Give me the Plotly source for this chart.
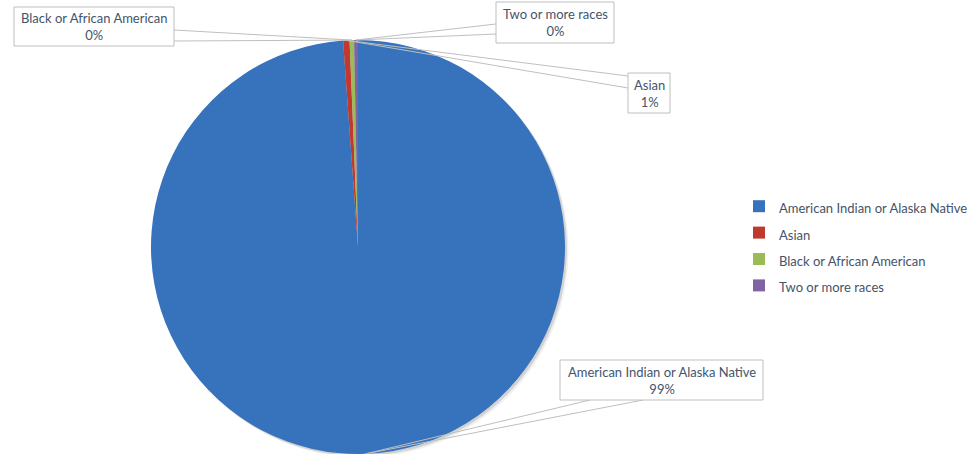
import math
import plotly.graph_objects as go

# ---- data ----
categories = ["American Indian or Alaska Native", "Asian", "Black or African American", "Two or more races"]
values = [98.85, 0.5, 0.35, 0.3]
colors = ["#3772BD", "#C0392F", "#9BBB59", "#8064A2"]

# ---- layout constants (pixels) ----
W, H = 980, 454
PIE_CX, PIE_CY, PIE_R = 358, 247, 207
TEXT_COLOR = "#44546A"
FONT = "Lato"

# callout boxes: (x0, y0, x1, y1) and wedge base points on the box edge
callouts = {
    "American Indian or Alaska Native": dict(box=(560, 360, 763, 400), base=((590, 400), (643, 400))),
    "Asian": dict(box=(628, 73, 670, 113), base=((628, 76), (628, 88))),
    "Black or African American": dict(box=(14, 7, 174, 46), base=((174, 30), (174, 41))),
    "Two or more races": dict(box=(496, 2, 614, 43), base=((496, 24), (496, 34))),
}

def px(x):
    return x / W

def py(y):
    return 1 - y / H

legend_labels = [f'<span style="font-size:13px">{c}</span>' for c in categories]

fig = go.Figure()
fig.add_trace(go.Pie(
    labels=legend_labels,
    values=values,
    marker=dict(colors=colors, line=dict(width=0)),
    sort=False,
    direction="clockwise",
    rotation=0,
    textinfo="none",
    hole=0,
    domain=dict(x=[px(PIE_CX - PIE_R), px(PIE_CX + PIE_R)],
                y=[py(PIE_CY + PIE_R), py(PIE_CY - PIE_R)]),
    showlegend=True,
))

shapes = []
# soft shadow behind the pie (lower right)
for off, alpha in ((3.5, 0.06), (2.0, 0.12)):
    shapes.append(dict(
        type="circle", xref="paper", yref="paper", layer="below",
        x0=px(PIE_CX - PIE_R + off), x1=px(PIE_CX + PIE_R + off),
        y0=py(PIE_CY + PIE_R + off), y1=py(PIE_CY - PIE_R + off),
        line=dict(width=0), fillcolor=f"rgba(0,0,0,{alpha})",
    ))

total = sum(values)
cum = 0.0
annotations = []
for cat, v in zip(categories, values):
    mid = (cum + v / 2) / total * 2 * math.pi
    cum += v
    tipx = PIE_CX + PIE_R * math.sin(mid)
    tipy = PIE_CY - PIE_R * math.cos(mid)
    c = callouts[cat]
    x0, y0, x1, y1 = c["box"]
    (bx1, by1), (bx2, by2) = c["base"]
    shapes.append(dict(
        type="path", xref="paper", yref="paper",
        path=f"M{px(bx1)},{py(by1)} L{px(tipx)},{py(tipy)} L{px(bx2)},{py(by2)}",
        line=dict(color="#BFBFBF", width=1), fillcolor="rgba(255,255,255,0)",
    ))
    shapes.append(dict(
        type="rect", xref="paper", yref="paper",
        x0=px(x0), x1=px(x1), y0=py(y1), y1=py(y0),
        line=dict(color="#BFBFBF", width=1), fillcolor="white",
    ))
    pct = math.floor(v / total * 100 + 0.5 + 1e-9)
    annotations.append(dict(
        xref="paper", yref="paper",
        x=px((x0 + x1) / 2), y=py((y0 + y1) / 2),
        text=f"{cat}<br>{pct}%", showarrow=False,
        font=dict(family=FONT, size=13, color=TEXT_COLOR),
        align="center", xanchor="center", yanchor="middle",
    ))

fig.update_layout(
    width=W, height=H,
    margin=dict(l=0, r=0, t=0, b=0),
    paper_bgcolor="white", plot_bgcolor="white",
    shapes=shapes, annotations=annotations,
    font=dict(family=FONT, size=13, color=TEXT_COLOR),
    legend=dict(
        x=px(739), y=py(246), xanchor="left", yanchor="middle",
        font=dict(family=FONT, size=18, color=TEXT_COLOR),
        bgcolor="rgba(0,0,0,0)",
    ),
)

fig.write_html("out.html", config={"displayModeBar": False},
               post_script="document.body.style.margin='0';")
